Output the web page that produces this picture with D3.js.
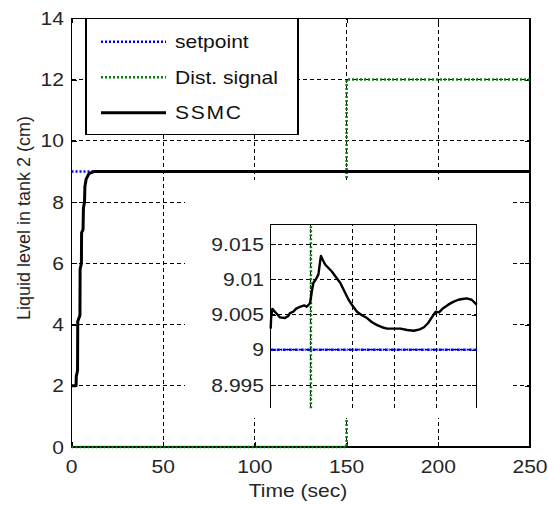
<!DOCTYPE html>
<html>
<head>
<meta charset="utf-8">
<script src="https://cdn.jsdelivr.net/npm/d3@7"></script>
<style>
  body { margin: 0; background: #fff; }
  svg { display: block; }
  text { font-family: "Liberation Sans", Arial, sans-serif; }
  .tick line, .grid, .box { shape-rendering: crispEdges; }
</style>
</head>
<body>
<svg id="chart" width="548" height="505"></svg>
<script>
//data
var xTicks = [0, 50, 100, 150, 200, 250];
var yTicks = [0, 2, 4, 6, 8, 10, 12, 14];
var setpointT = [0, 250];
var setpointV = [9, 9];
var distT = [0, 150, 150, 250];
var distV = [0, 0, 12, 12];
var ssmcT = [0, 2.5, 2.6, 3.3, 3.4, 4.6, 4.7, 5.4, 5.5, 6.3, 6.5, 7.1, 7.3, 8.0, 9.5, 12.5, 250];
var ssmcV = [2.0, 2.0, 2.3, 2.5, 4.1, 4.3, 5.8, 6.0, 7.0, 7.1, 7.8, 8.0, 8.5, 8.75, 8.93, 9.0, 9.0];

//zoomed view (inset)
var insetXTicks = [150, 155, 160, 165];
var insetYTicks = [8.995, 9.0, 9.005, 9.01, 9.015];
var insetYLabels = ["8.995", "9", "9.005", "9.01", "9.015"];
var insetT = [145.2, 145.25, 145.4, 145.7, 146.0, 146.3, 146.9, 147.3, 147.5, 147.9, 148.2, 148.7, 149.2, 149.5, 149.9,
  150.1, 150.3, 150.6, 150.9, 151.1, 151.2, 151.4, 151.7, 152.1, 152.5, 153.0, 153.5, 154.0, 154.5, 155.0, 155.5,
  156.1, 156.7, 157.3, 157.9, 158.5, 159.1, 160.0, 160.7, 161.5, 162.3, 163.0, 163.5, 164.0, 164.5, 164.9, 165.3,
  165.8, 166.4, 167.0, 167.6, 168.1, 168.6, 169.2, 169.8];
var insetV = [9.0030, 9.0045, 9.0058, 9.0054, 9.0050, 9.0046, 9.0045, 9.0048, 9.0052, 9.0054, 9.0058, 9.0061, 9.0063, 9.0061, 9.0066,
  9.0082, 9.0095, 9.0100, 9.0107, 9.0125, 9.0133, 9.0128, 9.0121, 9.0116, 9.0111, 9.0103, 9.0095, 9.0083, 9.0071, 9.0062, 9.0054,
  9.0049, 9.0045, 9.0039, 9.0035, 9.0032, 9.0030, 9.0030, 9.0030, 9.0028, 9.0027, 9.0029, 9.0032, 9.0038, 9.0047, 9.0054, 9.0053,
  9.0059, 9.0064, 9.0068, 9.0071, 9.0072, 9.0073, 9.0071, 9.0064];

var legendNames = ["setpoint", "Dist. signal", "SSMC"];
var legendColors = ["#0000ff", "#008000", "#000000"];

var fontSize = 18, stretch = 1.17, textColor = "#262626";

var svg = d3.select("#chart");

//main axes
var x = d3.scaleLinear().domain([0, 250]).range([71.5, 530]);
var y = d3.scaleLinear().domain([0, 14]).range([447, 18.3]);

var zip = function(a, b) { return a.map(function(d, i) { return [d, b[i]]; }); };

function line(xs, ys) {
  return d3.line().x(function(d) { return xs(d[0]); }).y(function(d) { return ys(d[1]); });
}

//stretched text helper (the figure is a bit wider than the font)
function label(g, px, py, txt, anchor) {
  return g.append("text")
    .attr("transform", "translate(" + px + "," + py + ") scale(" + stretch + ",1)")
    .attr("text-anchor", anchor || "start")
    .attr("font-size", fontSize)
    .attr("fill", textColor)
    .text(txt);
}

var main = svg.append("g");

//grid
main.selectAll(".vgrid").data(xTicks.slice(1, -1)).enter().append("line")
  .attr("class", "grid")
  .attr("x1", function(d) { return x(d); }).attr("x2", function(d) { return x(d); })
  .attr("y1", y(0)).attr("y2", y(14))
  .attr("stroke", "#000").attr("stroke-dasharray", "4,3");
main.selectAll(".hgrid").data(yTicks.slice(1, -1)).enter().append("line")
  .attr("class", "grid")
  .attr("x1", x(0)).attr("x2", x(250))
  .attr("y1", function(d) { return y(d); }).attr("y2", function(d) { return y(d); })
  .attr("stroke", "#000").attr("stroke-dasharray", "4,3");

//box + inward ticks
main.append("rect").attr("class", "box")
  .attr("x", x(0)).attr("y", y(14))
  .attr("width", x(250) - x(0)).attr("height", y(0) - y(14))
  .attr("fill", "none").attr("stroke", "#000").attr("stroke-width", 1.5);

main.append("g").attr("transform", "translate(0," + y(0) + ")")
  .call(d3.axisBottom(x).tickValues(xTicks).tickSize(-5).tickSizeOuter(0).tickFormat(""));
main.append("g").attr("transform", "translate(0," + y(14) + ")")
  .call(d3.axisTop(x).tickValues(xTicks).tickSize(-5).tickSizeOuter(0).tickFormat(""));
main.append("g").attr("transform", "translate(" + x(0) + ",0)")
  .call(d3.axisLeft(y).tickValues(yTicks).tickSize(-5).tickSizeOuter(0).tickFormat(""));
main.append("g").attr("transform", "translate(" + x(250) + ",0)")
  .call(d3.axisRight(y).tickValues(yTicks).tickSize(-5).tickSizeOuter(0).tickFormat(""));
main.selectAll(".domain").remove();

//series
main.append("path").datum(zip(setpointT, setpointV))
  .attr("d", line(x, y)).attr("fill", "none")
  .attr("stroke", legendColors[0]).attr("stroke-width", 2.5).attr("stroke-dasharray", "2,2");
main.append("path").datum(zip(distT, distV))
  .attr("d", line(x, y)).attr("fill", "none")
  .attr("stroke", legendColors[1]).attr("stroke-width", 2.5).attr("stroke-dasharray", "2,2");
main.append("path").datum(zip(ssmcT, ssmcV))
  .attr("d", line(x, y)).attr("fill", "none")
  .attr("stroke", legendColors[2]).attr("stroke-width", 3).attr("stroke-linejoin", "round");

//tick labels
xTicks.forEach(function(d) { label(main, x(d), 473, d, "middle"); });
yTicks.forEach(function(d) { label(main, 64, y(d) + 6.5, d, "end"); });

label(main, 298, 497, "Time (sec)", "middle");
main.append("text")
  .attr("transform", "translate(30,218) rotate(-90)")
  .attr("text-anchor", "middle")
  .attr("font-size", fontSize)
  .attr("fill", textColor)
  .text("Liquid level in tank 2 (cm)");

//		==INSET==
var ix = d3.scaleLinear().domain([145.2, 169.8]).range([270.7, 476.7]);
var iy = d3.scaleLinear().domain([8.9917, 9.0178]).range([408.3, 224.3]);

var inset = svg.append("g");
inset.append("rect")
  .attr("x", 185).attr("y", 180).attr("width", 325).attr("height", 238)
  .attr("fill", "#fff");

inset.selectAll(".ivgrid").data(insetXTicks).enter().append("line")
  .attr("class", "grid")
  .attr("x1", function(d) { return ix(d); }).attr("x2", function(d) { return ix(d); })
  .attr("y1", iy.range()[0]).attr("y2", iy.range()[1])
  .attr("stroke", "#000").attr("stroke-dasharray", "4,3");
inset.selectAll(".ihgrid").data(insetYTicks).enter().append("line")
  .attr("class", "grid")
  .attr("x1", ix.range()[0]).attr("x2", ix.range()[1])
  .attr("y1", function(d) { return iy(d); }).attr("y2", function(d) { return iy(d); })
  .attr("stroke", "#000").attr("stroke-dasharray", "4,3");

//top, left, right borders only (no bottom line in the figure)
inset.append("path").attr("class", "box")
  .attr("d", d3.line()([[ix.range()[0], iy.range()[0]], [ix.range()[0], iy.range()[1]],
    [ix.range()[1], iy.range()[1]], [ix.range()[1], iy.range()[0]]]))
  .attr("fill", "none").attr("stroke", "#000").attr("stroke-width", 1.5);

inset.append("g").attr("transform", "translate(" + ix.range()[0] + ",0)")
  .call(d3.axisLeft(iy).tickValues(insetYTicks).tickSize(-5).tickSizeOuter(0).tickFormat(""));
inset.append("g").attr("transform", "translate(" + ix.range()[1] + ",0)")
  .call(d3.axisRight(iy).tickValues(insetYTicks).tickSize(-5).tickSizeOuter(0).tickFormat(""));
inset.selectAll(".domain").remove();

inset.append("line")
  .attr("x1", ix.range()[0]).attr("x2", ix.range()[1])
  .attr("y1", iy(9)).attr("y2", iy(9))
  .attr("stroke", legendColors[0]).attr("stroke-width", 2.5).attr("stroke-dasharray", "3,1,1,1");
inset.append("line")
  .attr("x1", ix(150)).attr("x2", ix(150))
  .attr("y1", iy.range()[0]).attr("y2", iy.range()[1])
  .attr("stroke", legendColors[1]).attr("stroke-width", 2.5).attr("stroke-dasharray", "2,2");
inset.append("path").datum(zip(insetT, insetV))
  .attr("d", line(ix, iy)).attr("fill", "none")
  .attr("stroke", "#000").attr("stroke-width", 2.4).attr("stroke-linejoin", "round");

insetYTicks.forEach(function(d, i) { label(inset, 264, iy(d) + 6.5, insetYLabels[i], "end"); });

//		==LEGEND==
var legend = svg.append("g");
legend.append("rect").attr("class", "box")
  .attr("x", 86).attr("y", 18.3).attr("width", 212).attr("height", 116)
  .attr("fill", "#fff").attr("stroke", "#000").attr("stroke-width", 1.5);
var rowY = [41.7, 77.3, 112.7];
legendNames.forEach(function(name, i) {
  legend.append("line")
    .attr("x1", 101).attr("x2", 166).attr("y1", rowY[i]).attr("y2", rowY[i])
    .attr("stroke", legendColors[i])
    .attr("stroke-width", i == 2 ? 3 : 2.5)
    .attr("stroke-dasharray", i == 2 ? null : "2,2");
  label(legend, 175, rowY[i] + 6.5, name).attr("fill", "#111")
    .attr("letter-spacing", i == 2 ? 1.5 : 0);
});
</script>
</body>
</html>
